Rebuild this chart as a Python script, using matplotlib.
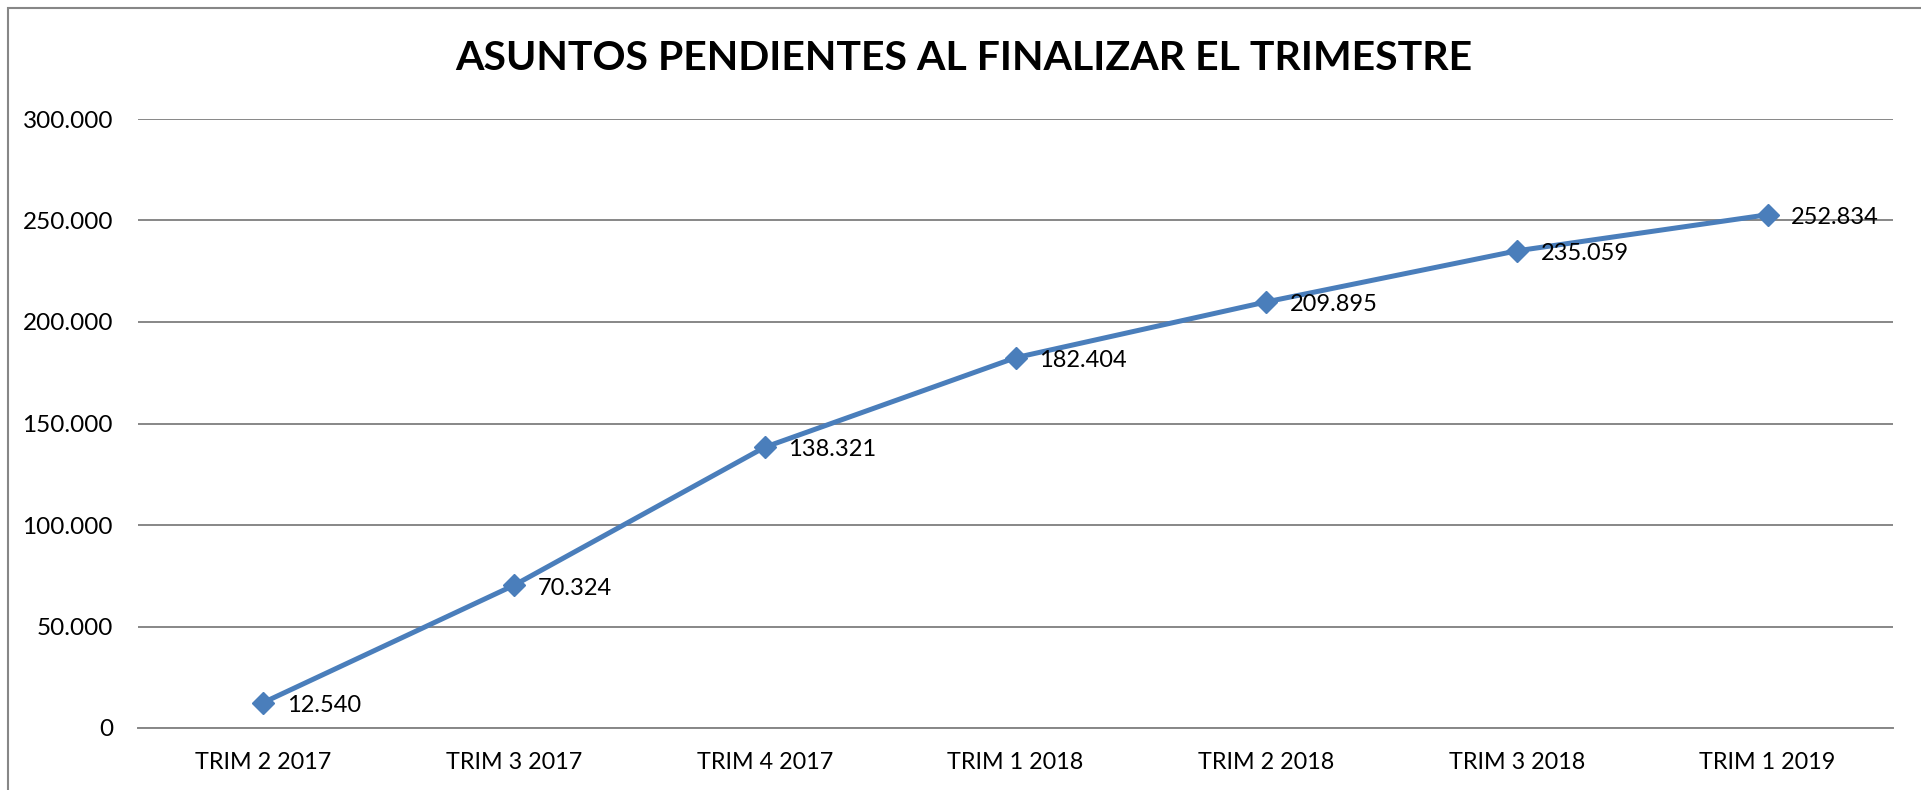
import matplotlib
matplotlib.use("Agg")
from matplotlib import pyplot as plt
from matplotlib.patches import Rectangle

# datos del grafico
trimestres = ["TRIM 2 2017", "TRIM 3 2017", "TRIM 4 2017", "TRIM 1 2018",
              "TRIM 2 2018", "TRIM 3 2018", "TRIM 1 2019"]
pendientes = [12540, 70324, 138321, 182404, 209895, 235059, 252834]
y_ticks = [0, 50000, 100000, 150000, 200000, 250000, 300000]

plt.rcParams['font.family'] = ['Lato', 'DejaVu Sans']

def fmt(v):
    # separador de miles con punto
    return f"{v:,}".replace(",", ".")

fig = plt.figure(figsize=(19.21, 7.90), dpi=100)
ax = fig.add_axes([138 / 1921, 62 / 790, 1755 / 1921, 609 / 790])

x = list(range(len(trimestres)))
ax.plot(x, pendientes, color="#4A7EBB", lw=3.6, marker="D", ms=11.5,
        markerfacecolor="#4A7EBB", markeredgecolor="#4A7EBB", zorder=3)

for xi, v in zip(x, pendientes):
    ax.annotate(fmt(v), (xi, v), xytext=(17, -2), textcoords="offset points",
                ha="left", va="center", fontsize=17, color="black")

ax.set_xlim(-0.5, len(trimestres) - 0.5)
ax.set_ylim(0, 300000)
ax.set_yticks(y_ticks)
ax.set_yticklabels([fmt(v) for v in y_ticks], fontsize=17.5)
ax.set_xticks(x)
ax.set_xticklabels(trimestres, fontsize=16.8)
ax.tick_params(axis="both", length=0)
ax.tick_params(axis="y", pad=18)
ax.tick_params(axis="x", pad=17)

ax.grid(axis="y", color="#878787", lw=1.4)
ax.set_axisbelow(True)
for s in ["left", "right", "top"]:
    ax.spines[s].set_visible(False)
ax.spines["bottom"].set_color("#878787")
ax.spines["bottom"].set_linewidth(1.4)

fig.text(964 / 1921, 1 - 59 / 790, "ASUNTOS PENDIENTES AL FINALIZAR EL TRIMESTRE",
         ha="center", va="center", fontsize=29.5, fontweight="bold")

# marco exterior
fig.patches.append(Rectangle((8 / 1921, -0.1), 1.2, 1.1 - 8 / 790,
                             transform=fig.transFigure, fill=False,
                             edgecolor="#878787", lw=1.5))

fig.savefig("out.png", dpi=100)
